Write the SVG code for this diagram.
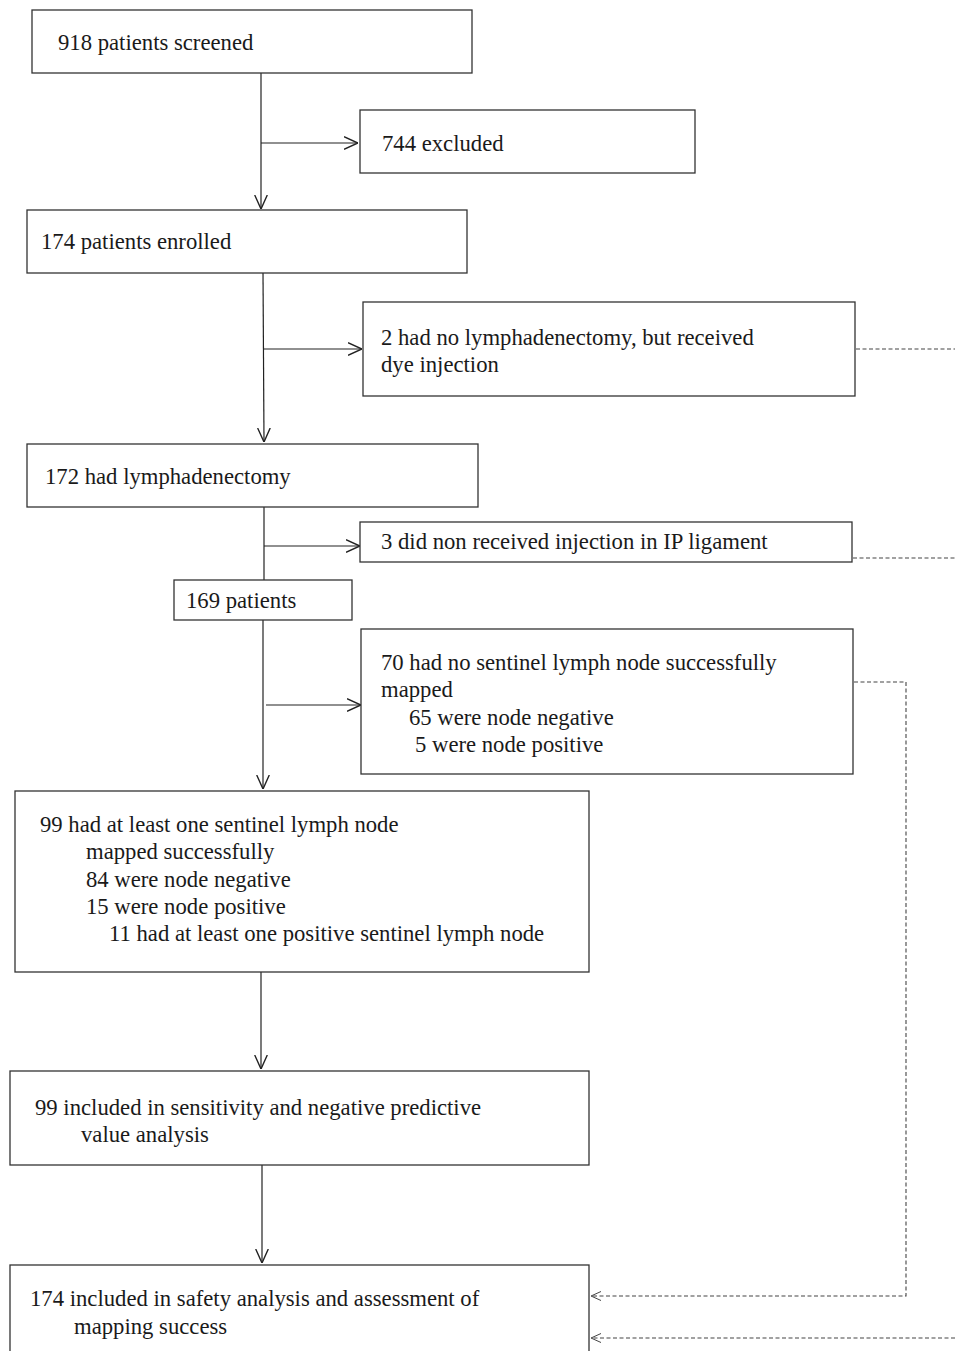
<svg xmlns="http://www.w3.org/2000/svg" width="955" height="1351" viewBox="0 0 955 1351">
<style>
.box{fill:#fff;stroke:#333;stroke-width:1.3}
.t{font-family:"Liberation Serif","Times New Roman",serif;font-size:22.7px;fill:#1a1a1a}
.c{fill:none;stroke:#222;stroke-width:1.2}
.d{fill:none;stroke:#444;stroke-width:1.1;stroke-dasharray:4 2.5}
</style>
<defs>
<marker id="ah" viewBox="0 0 10 10" refX="10" refY="5" markerWidth="14" markerHeight="14" markerUnits="userSpaceOnUse" orient="auto">
<path d="M0,0.5 L10,5 L0,9.5" fill="none" stroke="#222" stroke-width="1"/>
</marker>
<marker id="ahd" viewBox="0 0 10 10" refX="10" refY="5" markerWidth="10" markerHeight="10" markerUnits="userSpaceOnUse" orient="auto">
<path d="M0,0.5 L10,5 L0,9.5" fill="none" stroke="#444" stroke-width="1"/>
</marker>
</defs>
<rect width="955" height="1351" fill="#fff"/>
<g id="connectors">
<line class="c" x1="261" y1="73" x2="261" y2="209" marker-end="url(#ah)"/>
<line class="c" x1="261" y1="143" x2="358" y2="143" marker-end="url(#ah)"/>
<line class="c" x1="263" y1="273" x2="264" y2="442" marker-end="url(#ah)"/>
<line class="c" x1="263" y1="349" x2="362" y2="349" marker-end="url(#ah)"/>
<line class="c" x1="264" y1="507" x2="264" y2="580"/>
<line class="c" x1="264" y1="546" x2="360" y2="546" marker-end="url(#ah)"/>
<line class="c" x1="263" y1="620" x2="263" y2="789" marker-end="url(#ah)"/>
<line class="c" x1="266" y1="705" x2="361" y2="705" marker-end="url(#ah)"/>
<line class="c" x1="261" y1="972" x2="261" y2="1069" marker-end="url(#ah)"/>
<line class="c" x1="262" y1="1165" x2="262" y2="1263" marker-end="url(#ah)"/>
<line class="d" x1="856" y1="349" x2="955" y2="349"/>
<line class="d" x1="853" y1="558" x2="955" y2="558"/>
<polyline class="d" points="854,682 906,682 906,1296 591,1296" marker-end="url(#ahd)"/>
<line class="d" x1="955" y1="1338" x2="591" y2="1338" marker-end="url(#ahd)"/>
</g>
<g id="n1"><rect class="box" x="32" y="10" width="440" height="63"/><text class="t" x="58" y="50">918 patients screened</text></g>
<g id="n2"><rect class="box" x="360" y="110" width="335" height="63"/><text class="t" x="382" y="151">744 excluded</text></g>
<g id="n3"><rect class="box" x="27" y="210" width="440" height="63"/><text class="t" x="41" y="249">174 patients enrolled</text></g>
<g id="n4"><rect class="box" x="363" y="302" width="492" height="94"/><text class="t" x="381" y="345">2 had no lymphadenectomy, but received</text><text class="t" x="381" y="372">dye injection</text></g>
<g id="n5"><rect class="box" x="27" y="444" width="451" height="63"/><text class="t" x="45" y="484">172 had lymphadenectomy</text></g>
<g id="n6"><rect class="box" x="360" y="522" width="492" height="40"/><text class="t" x="381" y="549">3 did non received injection in IP ligament</text></g>
<g id="n7"><rect class="box" x="174" y="580" width="178" height="40"/><text class="t" x="186" y="608">169 patients</text></g>
<g id="n8"><rect class="box" x="361" y="629" width="492" height="145"/><text class="t" x="381" y="670">70 had no sentinel lymph node successfully</text><text class="t" x="381" y="697">mapped</text><text class="t" x="409" y="725">65 were node negative</text><text class="t" x="415" y="752">5 were node positive</text></g>
<g id="n9"><rect class="box" x="15" y="791" width="574" height="181"/><text class="t" x="40" y="832">99 had at least one sentinel lymph node</text><text class="t" x="86" y="859">mapped successfully</text><text class="t" x="86" y="887">84 were node negative</text><text class="t" x="86" y="914">15 were node positive</text><text class="t" x="109" y="941">11 had at least one positive sentinel lymph node</text></g>
<g id="n10"><rect class="box" x="10" y="1071" width="579" height="94"/><text class="t" x="35" y="1115">99 included in sensitivity and negative predictive</text><text class="t" x="81" y="1142">value analysis</text></g>
<g id="n11"><rect class="box" x="10" y="1265" width="579" height="100"/><text class="t" x="30" y="1306">174 included in safety analysis and assessment of</text><text class="t" x="74" y="1334">mapping success</text></g>
</svg>
